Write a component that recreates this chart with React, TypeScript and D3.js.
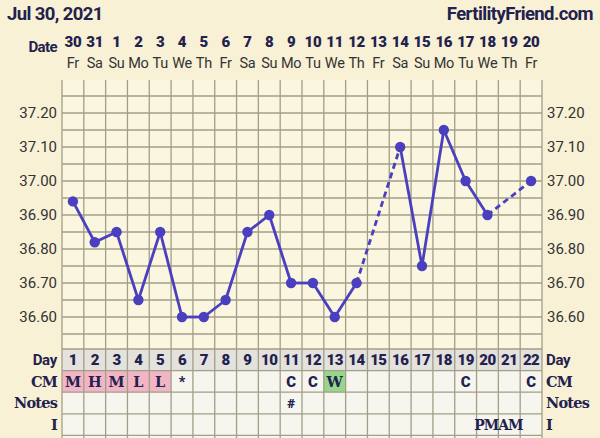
import React from "react";
import * as d3 from "d3";

const days = d3.range(1, 23);
const dates = ["30","31","1","2","3","4","5","6","7","8","9","10","11","12","13","14","15","16","17","18","19","20"];
const weekdays = ["Fr","Sa","Su","Mo","Tu","We","Th","Fr","Sa","Su","Mo","Tu","We","Th","Fr","Sa","Su","Mo","Tu","We","Th","Fr"];
const temps: (number | null)[] = [36.94,36.82,36.85,36.65,36.85,36.6,36.6,36.65,36.85,36.9,36.7,36.7,36.6,36.7,null,37.1,36.75,37.15,37.0,36.9,null,37.0];
const cm = ["M","H","M","L","L","*","","","","","C","C","W","","","","","","C","","","C"];
const cmColor = ["pink","pink","pink","pink","pink","","","","","","","","green","","","","","","","","",""];
const notes = ["","","","","","","","","","","#","","","","","","","","","","",""];
const yTicks = [36.6, 36.7, 36.8, 36.9, 37.0, 37.1, 37.2];

const W = 600, H = 438;
const gridL = 62, gridR = 542, gridT = 80, gridB = 349;
const rowH = 21.6;
const ink = "#23214d";
const lineCol = "#4a3fbf";
const gridCol = "#a29e88";
const sans = "Roboto, 'Noto Sans', sans-serif";
const slab = "'DejaVu Serif', serif";

export default function App() {
  const x = d3.scaleBand<number>().domain(days).range([gridL, gridR]);
  const cx = (d: number) => (x(d) as number) + x.bandwidth() / 2;
  const y = d3.scaleLinear().domain([36.6, 37.2]).range([317, 113]);
  const hLines = d3.range(36.5, 37.35, 0.05).map((v) => y(v)).filter((v) => v > gridT + 1 && v < gridB - 1);

  const pts = temps.map((t, i) => ({ d: days[i], t }));
  const valid = pts.filter((p) => p.t !== null) as { d: number; t: number }[];
  const segs: { a: { d: number; t: number }; b: { d: number; t: number }; dashed: boolean }[] = [];
  for (let i = 1; i < valid.length; i++) {
    segs.push({ a: valid[i - 1], b: valid[i], dashed: valid[i].d - valid[i - 1].d > 1 });
  }

  const rowTops = [gridB, gridB + rowH, gridB + 2 * rowH, gridB + 3 * rowH];
  const tableBottom = H;
  const rowLabels = ["Day", "CM", "Notes", "I"];

  return (
    <svg width={W} height={H} style={{ position: "absolute", left: 0, top: 0, display: "block" }}>
      <rect x={0} y={0} width={W} height={H} fill="#f8f1d6" />
      <text x={7} y={20} fontFamily={sans} fontWeight={700} fontSize={18.5} fill={ink} letterSpacing={-0.6}>Jul 30, 2021</text>
      <text x={593} y={20} textAnchor="end" fontFamily={sans} fontWeight={700} fontSize={18.5} fill={ink} letterSpacing={-0.6}>FertilityFriend.com</text>
      <text x={57} y={52} textAnchor="end" fontFamily={sans} fontWeight={700} fontSize={15} fill={ink} letterSpacing={-0.6}>Date</text>
      {days.map((d, i) => (
        <g key={"h" + d}>
          <text x={cx(d)} y={47} textAnchor="middle" fontFamily={sans} fontWeight={900} fontSize={15} fill={ink} letterSpacing={-0.3}>{dates[i]}</text>
          <text x={cx(d)} y={68} textAnchor="middle" fontFamily={sans} fontSize={14.5} fill="#333" letterSpacing={-0.3}>{weekdays[i]}</text>
        </g>
      ))}
      {/* chart grid */}
      <rect x={gridL} y={gridT} width={gridR - gridL} height={gridB - gridT} fill="#faf6df" />
      {/* table backgrounds */}
      <rect x={gridL} y={rowTops[0]} width={gridR - gridL} height={rowH} fill="#e3e2dc" />
      <rect x={gridL} y={rowTops[1]} width={gridR - gridL} height={tableBottom - rowTops[1]} fill="#f6f5ee" />
      {days.map((d, i) =>
        cmColor[i] ? (
          <rect key={"cc" + d} x={x(d)} y={rowTops[1]} width={x.bandwidth()} height={rowH}
            fill={cmColor[i] === "pink" ? "#f2b5c6" : "#97d68a"} />
        ) : null
      )}
      {hLines.map((v, i) => (
        <line key={"hl" + i} x1={gridL} x2={gridR} y1={v} y2={v} stroke={gridCol} strokeWidth={1.3} />
      ))}
      {rowTops.map((v, i) => (
        <line key={"rt" + i} x1={gridL} x2={gridR} y1={v} y2={v} stroke={gridCol} strokeWidth={1.3} />
      ))}
      <line x1={gridL} x2={gridR} y1={rowTops[3] + rowH} y2={rowTops[3] + rowH} stroke={gridCol} strokeWidth={1.3} />
      {d3.range(0, 23).map((k) => {
        const xx = gridL + k * x.bandwidth();
        return <line key={"vl" + k} x1={xx} x2={xx} y1={gridT} y2={tableBottom} stroke={gridCol} strokeWidth={1.3} />;
      })}
      {/* y labels */}
      {yTicks.map((t) => (
        <g key={"yt" + t}>
          <text x={57} y={y(t) + 5} textAnchor="end" fontFamily={sans} fontSize={15} fill="#333">{t.toFixed(2)}</text>
          <text x={547} y={y(t) + 5} fontFamily={sans} fontSize={15} fill="#333">{t.toFixed(2)}</text>
        </g>
      ))}
      {/* line */}
      {segs.map((s, i) => (
        <line key={"sg" + i} x1={cx(s.a.d)} y1={y(s.a.t)} x2={cx(s.b.d)} y2={y(s.b.t)}
          stroke={lineCol} strokeWidth={2.8} strokeDasharray={s.dashed ? "6,4" : undefined} />
      ))}
      {valid.map((p) => (
        <circle key={"pt" + p.d} cx={cx(p.d)} cy={y(p.t)} r={5.2} fill={lineCol} />
      ))}
      {/* table text */}
      {rowLabels.map((l, i) => (
        <g key={"rl" + l}>
          <text x={57} y={rowTops[i] + 16} textAnchor="end"
            fontFamily={i === 0 ? sans : slab} fontWeight={700} fontSize={i === 0 ? 15 : 14.5} fill={ink}
            letterSpacing={i === 0 ? -0.3 : -0.8}>{l}</text>
          <text x={546} y={rowTops[i] + 16}
            fontFamily={i === 0 ? sans : slab} fontWeight={700} fontSize={i === 0 ? 15 : 14.5} fill={ink}
            letterSpacing={i === 0 ? -0.3 : -0.8}>{l}</text>
        </g>
      ))}
      {days.map((d, i) => (
        <g key={"tb" + d}>
          <text x={cx(d)} y={rowTops[0] + 16} textAnchor="middle" fontFamily={sans} fontWeight={900} fontSize={15} fill={ink} letterSpacing={-0.5}>{d}</text>
          {cm[i] ? (
            <text x={cx(d)} y={rowTops[1] + 16} textAnchor="middle"
              fontFamily={cm[i] === "C" || cm[i] === "*" ? sans : slab} fontWeight={cm[i] === "C" ? 900 : 700} fontSize={cm[i] === "C" ? 15 : 14.5} fill={ink}>{cm[i]}</text>
          ) : null}
          {notes[i] ? (
            <text x={cx(d)} y={rowTops[2] + 16} textAnchor="middle" fontFamily={sans} fontWeight={900} fontSize={13.5} fill={ink}>{notes[i]}</text>
          ) : null}
        </g>
      ))}
      <text x={gridL + 20 * x.bandwidth()} y={rowTops[3] + 16} textAnchor="middle" fontFamily={slab} fontWeight={700} fontSize={14} fill={ink} letterSpacing={-1.1}>PMAM</text>
    </svg>
  );
}
